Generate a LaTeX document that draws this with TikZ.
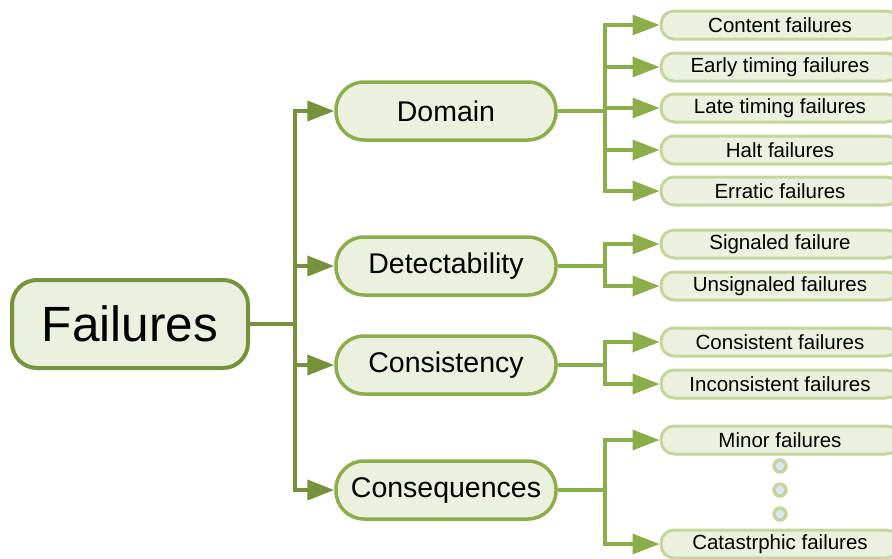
\documentclass[tikz,border=0pt]{standalone}
\usepackage{fontspec}
\setmainfont{Liberation Sans}
\usetikzlibrary{arrows.meta}

\definecolor{oliveDark}{HTML}{76923C}
\definecolor{oliveMid}{HTML}{8BAE4B}
\definecolor{oliveLight}{HTML}{C3D69B}
\definecolor{paleGreen}{HTML}{EBF1DE}
\definecolor{dotBlue}{HTML}{DCE6F2}

\tikzset{
  rootbox/.style={draw=oliveDark, line width=4pt, fill=paleGreen, rounded corners=25pt,
    minimum width=236pt, minimum height=88pt, font=\fontsize{49.5}{52}\selectfont},
  kindbox/.style={draw=oliveMid, line width=3.5pt, fill=paleGreen, rounded corners=28pt,
    minimum width=220pt, minimum height=58pt, font=\fontsize{28.5}{30}\selectfont},
  leafbox/.style={draw=oliveLight, line width=3pt, fill=paleGreen, rounded corners=13pt,
    minimum width=238pt, minimum height=28pt, inner sep=0pt, font=\fontsize{20.5}{22}\selectfont},
  trunk/.style={draw=oliveDark, line width=4pt},
  twig/.style={draw=oliveMid, line width=3.5pt},
  tip/.style={-{Triangle[length=27pt,width=20pt]}},
  gapdot/.style={circle, draw=oliveLight, line width=3.5pt, fill=dotBlue,
    minimum size=12pt, inner sep=0pt}
}

\begin{document}
\begin{tikzpicture}[x=1pt, y=-1pt]
  \useasboundingbox (0,0) rectangle (892,558);

  % root and the four ways of classifying
  \node[rootbox] (fail) at (130,324) {Failures};
  \node[kindbox] (dom)  at (446,111) {Domain};
  \node[kindbox] (det)  at (446,266) {Detectability};
  \node[kindbox] (cons) at (446,365) {Consistency};
  \node[kindbox] (conq) at (446,490) {Consequences};

  % leaves
  \node[leafbox] (content)  at (780,25)  {Content failures};
  \node[leafbox] (early)    at (780,67)  {Early timing failures};
  \node[leafbox] (late)     at (780,108) {Late timing failures};
  \node[leafbox] (halt)     at (780,150) {Halt failures};
  \node[leafbox] (erratic)  at (780,191) {Erratic failures};
  \node[leafbox] (signal)   at (780,244) {Signaled failure};
  \node[leafbox] (unsignal) at (780,286) {Unsignaled failures};
  \node[leafbox] (consist)  at (780,342) {Consistent failures};
  \node[leafbox] (inconsist) at (780,384) {Inconsistent failures};
  \node[leafbox] (minor)    at (780,440) {Minor failures};
  \node[leafbox] (catas)    at (780,544) {Catastrphic failures};

  \node[gapdot] (d1) at (780,466) {};
  \node[gapdot] (d2) at (780,490) {};
  \node[gapdot] (d3) at (780,514) {};

  % main branches
  \draw[trunk] (fail.east) -- ++(45,0) coordinate (rootfork);
  \foreach \k in {dom,det,cons,conq}
    \draw[trunk,tip] (rootfork) |- (\k.west);

  % second level
  \draw[twig] (dom.east) -- ++(47,0) coordinate (domfork);
  \foreach \l in {content,early,late,halt,erratic}
    \draw[twig,tip] (domfork) |- (\l.west);

  \draw[twig] (det.east) -- ++(47,0) coordinate (detfork);
  \foreach \l in {signal,unsignal}
    \draw[twig,tip] (detfork) |- (\l.west);

  \draw[twig] (cons.east) -- ++(47,0) coordinate (consfork);
  \foreach \l in {consist,inconsist}
    \draw[twig,tip] (consfork) |- (\l.west);

  \draw[twig] (conq.east) -- ++(47,0) coordinate (conqfork);
  \foreach \l in {minor,catas}
    \draw[twig,tip] (conqfork) |- (\l.west);
\end{tikzpicture}
\end{document}
